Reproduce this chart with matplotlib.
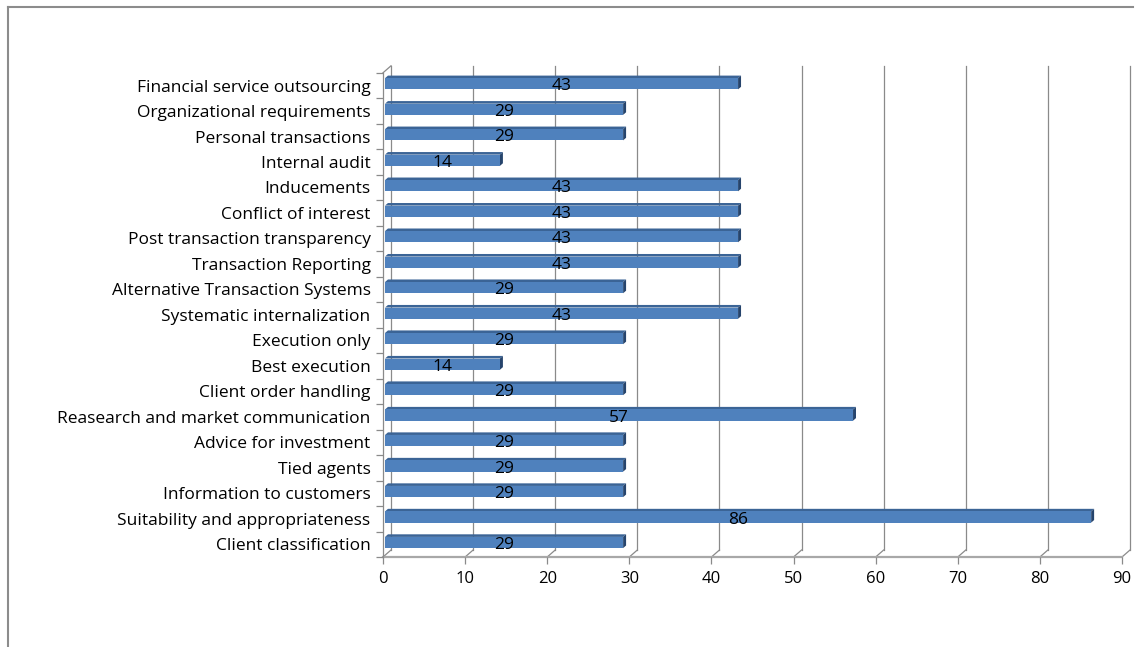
import matplotlib
matplotlib.use("Agg")
import matplotlib.pyplot as plt
from matplotlib.patches import Polygon
from matplotlib.lines import Line2D

categories = [
    "Financial service outsourcing",
    "Organizational requirements",
    "Personal transactions",
    "Internal audit",
    "Inducements",
    "Conflict of interest",
    "Post transaction transparency",
    "Transaction Reporting",
    "Alternative Transaction Systems",
    "Systematic internalization",
    "Execution only",
    "Best execution",
    "Client order handling",
    "Reasearch and market communication",
    "Advice for investment",
    "Tied agents",
    "Information to customers",
    "Suitability and appropriateness",
    "Client classification",
]
values = [43, 29, 29, 14, 43, 43, 43, 43, 29, 43, 29, 14, 29, 57, 29, 29, 29, 86, 29]
xticks = [0, 10, 20, 30, 40, 50, 60, 70, 80, 90]

FONT = ["Open Sans", "DejaVu Sans"]
plt.rcParams["font.family"] = FONT

W, H = 1135, 647
fig = plt.figure(figsize=(W / 100, H / 100), dpi=100)
x0px, x1px = 383, 1122
yb_px, yt_px = 557, 72.8
ax = fig.add_axes([x0px / W, (H - yb_px) / H, (x1px - x0px) / W, (yb_px - yt_px) / H])

n = len(categories)
xmax = 90
ax.set_xlim(0, xmax)
ax.set_ylim(-0.5, n - 0.5)

# depth offsets in data units (8 px right, 7 px up)
dx = 8 / ((x1px - x0px) / xmax)
dy = 7 / ((yb_px - yt_px) / n)

def proj(x, y, z):
    return (x + z * dx, y + z * dy)

grid_c = "#8a8a8a"
ylo, yhi = -0.5, n - 0.5
# back wall gridlines + floor diagonals
for v in xticks:
    ax.add_line(Line2D([v + dx, v + dx], [ylo + dy, yhi + dy], color=grid_c, lw=0.9, clip_on=False, zorder=1))
    ax.add_line(Line2D([v, v + dx], [ylo, ylo + dy], color=grid_c, lw=0.9, clip_on=False, zorder=1))
# front floor edge
ax.add_line(Line2D([0, xmax], [ylo, ylo], color="#a8a8a8", lw=1.6, clip_on=False, zorder=1))
# left wall front edge and top diagonal
ax.add_line(Line2D([0, 0], [ylo, yhi], color=grid_c, lw=0.9, clip_on=False, zorder=1))
ax.add_line(Line2D([0, dx], [yhi, yhi + dy], color=grid_c, lw=0.9, clip_on=False, zorder=1))

# bars (top of list at top)
z0, z1 = 0.25, 0.62
h = 0.44
front_c = "#4F81BD"
top_c = "#3B6496"
end_c = "#26446C"
for k, (cat, v) in enumerate(zip(categories, values)):
    yc = n - 1 - k
    b, t = yc - h / 2, yc + h / 2
    front = [proj(0, b, z0), proj(v, b, z0), proj(v, t, z0), proj(0, t, z0)]
    top = [proj(0, t, z0), proj(v, t, z0), proj(v, t, z1), proj(0, t, z1)]
    end = [proj(v, b, z0), proj(v, b, z1), proj(v, t, z1), proj(v, t, z0)]
    ax.add_patch(Polygon(top, closed=True, fc=top_c, ec="none", zorder=3, clip_on=False))
    ax.add_patch(Polygon(end, closed=True, fc=end_c, ec="none", zorder=3, clip_on=False))
    ax.add_patch(Polygon(front, closed=True, fc=front_c, ec="none", zorder=4, clip_on=False))
    cx, cy = proj(v / 2, yc, z0)
    ax.text(cx, cy - 0.1, str(v), ha="center", va="center", fontsize=12.5, color="black", zorder=5)

for s in ax.spines.values():
    s.set_visible(False)

ax.set_xticks(xticks)
ax.set_xticklabels([str(t) for t in xticks], fontsize=12)
ax.tick_params(axis="x", length=5, width=0.9, color=grid_c, pad=5)

ax.set_yticks(range(n))
ax.set_yticklabels(categories[::-1], fontsize=12.5)
ax.set_yticks([i - 0.5 for i in range(n + 1)], minor=True)
ax.tick_params(axis="y", which="major", length=0, pad=9)
ax.tick_params(axis="y", which="minor", length=5, width=0.9, color=grid_c)
ax.set_facecolor("none")

# outer frame (top and left edges visible)
fig.add_artist(Line2D([8 / W, 8 / W], [0, 1 - 7 / H], color="#8c8c8c", lw=1.5, transform=fig.transFigure))
fig.add_artist(Line2D([8 / W, 1133 / W], [1 - 7 / H, 1 - 7 / H], color="#8c8c8c", lw=1.5, transform=fig.transFigure))

fig.savefig("out.png", dpi=100)
